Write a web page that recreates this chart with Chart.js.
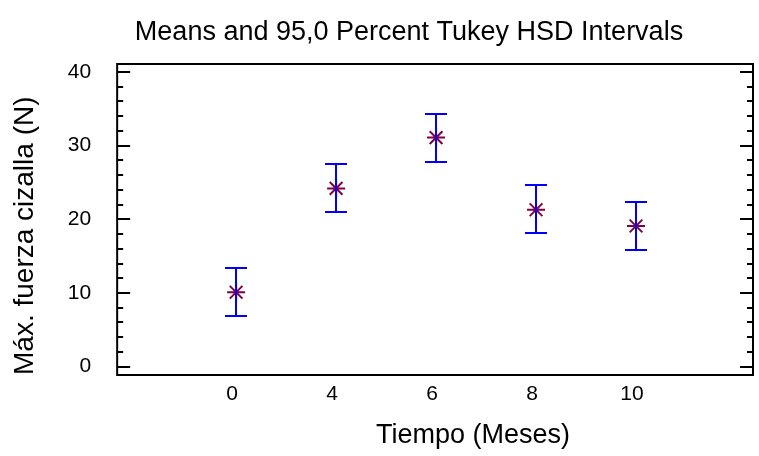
<!DOCTYPE html>
<html>
<head>
<meta charset="utf-8">
<script src="https://cdn.jsdelivr.net/npm/chart.js@4.4.0/dist/chart.umd.min.js"></script>
<style>
  body { margin: 0; background: #fff; }
  #c { display: block; }
</style>
</head>
<body>
<canvas id="c" width="759" height="456"></canvas>
<script>
// groups on the x axis (months)
const xLabels = ['0', '4', '6', '8', '10'];
// group means and Tukey HSD interval ends
const means = [10.1, 24.2, 31.1, 21.3, 19.1];
const lower = [6.9, 21.0, 27.8, 18.1, 15.8];
const upper = [13.4, 27.5, 34.3, 24.6, 22.4];
const yTicks = [0, 10, 20, 30, 40];
const titleText = 'Means and 95,0 Percent Tukey HSD Intervals';
const xTitleText = 'Tiempo (Meses)';

const FONT = 'Arial, "Liberation Sans", sans-serif';

// both titles sit right of centre in the original, so they are drawn by hand
const titlesPlugin = {
  id: 'ownTitles',
  afterDraw(chart) {
    const ctx = chart.ctx;
    ctx.save();
    ctx.fillStyle = '#000';
    ctx.font = '27px ' + FONT;
    ctx.textAlign = 'center';
    ctx.textBaseline = 'middle';
    ctx.fillText(titleText, 409, 33);
    ctx.fillText(xTitleText, 473, 436);
    ctx.restore();
  }
};

// frame with inward ticks on left/right, like the original plot
const framePlugin = {
  id: 'frame',
  afterDraw(chart) {
    const {ctx, chartArea: a, scales} = chart;
    const y = scales.y;
    ctx.save();
    ctx.strokeStyle = '#000';
    ctx.lineWidth = 2;
    ctx.strokeRect(a.left, a.top, a.right - a.left, a.bottom - a.top);
    ctx.beginPath();
    for (let v = 0; v <= 40; v += 2) {
      const py = Math.round(y.getPixelForValue(v));
      const len = v % 10 === 0 ? 13 : 6;
      ctx.moveTo(a.left, py); ctx.lineTo(a.left + len, py);
      ctx.moveTo(a.right, py); ctx.lineTo(a.right - len, py);
    }
    ctx.stroke();
    ctx.restore();
  }
};

const errorBars = {
  id: 'errorBars',
  afterDatasetsDraw(chart) {
    const {ctx, scales} = chart;
    const x = scales.x, y = scales.y;
    ctx.save();
    ctx.strokeStyle = '#0000ff';
    ctx.lineWidth = 2;
    ctx.beginPath();
    means.forEach((m, i) => {
      const px = Math.round(x.getPixelForValue(i + 1));
      const lo = Math.round(y.getPixelForValue(lower[i]));
      const hi = Math.round(y.getPixelForValue(upper[i]));
      ctx.moveTo(px, lo); ctx.lineTo(px, hi);
      ctx.moveTo(px - 11, lo); ctx.lineTo(px + 11, lo);
      ctx.moveTo(px - 11, hi); ctx.lineTo(px + 11, hi);
    });
    ctx.stroke();
    ctx.restore();
  }
};

new Chart(document.getElementById('c'), {
  type: 'scatter',
  data: {
    datasets: [{
      data: means.map((m, i) => ({x: i + 1, y: m})),
      pointStyle: 'star',
      radius: 9,
      borderColor: '#800040',
      backgroundColor: '#800040',
      borderWidth: 2
    }]
  },
  options: {
    responsive: false,
    animation: false,
    layout: {autoPadding: false, padding: {left: 0, right: 6, top: 64, bottom: 42.8}},
    plugins: {
      legend: {display: false},
      tooltip: {enabled: false},
      title: {display: false}
    },
    scales: {
      x: {
        type: 'linear',
        min: -0.19,
        max: 6.17,
        grid: {display: false, drawTicks: false},
        border: {display: false},
        afterBuildTicks: s => { s.ticks = xLabels.map((l, i) => ({value: i + 1})); },
        ticks: {
          autoSkip: false,
          padding: 6.5,
          labelOffset: -4,
          color: '#000',
          font: {family: FONT, size: 21},
          callback: v => xLabels[v - 1]
        },
        title: {display: false}
      },
      y: {
        min: -1.13,
        max: 41.09,
        grid: {display: false, drawTicks: false},
        border: {display: false},
        afterBuildTicks: s => { s.ticks = yTicks.map(v => ({value: v})); },
        ticks: {
          padding: 26,
          color: '#000',
          font: {family: FONT, size: 21}
        },
        title: {
          display: true,
          align: 'start',
          text: 'Máx. fuerza cizalla (N)',
          color: '#000',
          font: {family: FONT, size: 28},
          padding: {top: 8.2, bottom: 0}
        }
      }
    }
  },
  plugins: [framePlugin, errorBars, titlesPlugin]
});
</script>
</body>
</html>
